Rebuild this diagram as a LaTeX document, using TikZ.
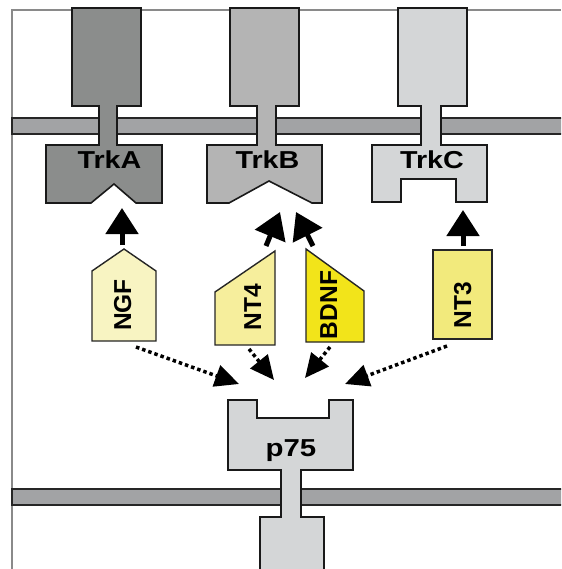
\documentclass[tikz,border=0pt]{standalone}
\usepackage{fontspec}
\usepackage{graphicx}
\setmainfont{Liberation Sans}
\usetikzlibrary{arrows.meta}
\definecolor{framegray}{HTML}{8A8A8A}
\definecolor{membgray}{HTML}{A2A3A5}
\definecolor{trkadark}{HTML}{8B8D8C}
\definecolor{trkbmid}{HTML}{B4B4B4}
\definecolor{trkclight}{HTML}{D4D6D7}
\definecolor{ngfpale}{HTML}{F8F4C2}
\definecolor{ntfourpale}{HTML}{F6EE9C}
\definecolor{bdnfyellow}{HTML}{F2E41A}
\definecolor{ntthree}{HTML}{F2EA7C}
\tikzset{rcpt/.style={draw=black!90, line width=1.6pt, line join=miter},
         memb/.style={draw=black!85, fill=membgray, line width=1.4pt},
         lig/.style={draw=black!85, line width=1.4pt},
         rlabel/.style={font=\fontsize{24.5}{28}\selectfont\bfseries, anchor=base, inner sep=0pt},
         llabel/.style={rlabel, rotate=90},
         bind/.style={line width=5pt, -{Triangle[width=32pt,length=26pt]}},
         lowbind/.style={line width=3.5pt, dash pattern=on 3.5pt off 3pt,
             -{Triangle[width=22pt,length=24pt]}}}

\begin{document}
\begin{tikzpicture}[x=1pt, y=-1pt]
  \clip (0,0) rectangle (561,569);
  \fill[white] (0,0) rectangle (561,569);
  \draw[framegray, line width=1.2pt] (12,569) -- (12,10) -- (561,10);

  % membranes
  \draw[memb] (12,118) rectangle (570,134);
  \draw[memb] (12,489) rectangle (570,505);

  % Trk receptors
  \draw[rcpt, fill=trkadark] (72,8) -- (141,8) -- (141,106) -- (117,106) -- (117,145)
      -- (162,145) -- (162,203) -- (136,203) -- (114,184) -- (91,203) -- (46,203)
      -- (46,145) -- (99,145) -- (99,106) -- (72,106) -- cycle;
  \draw[rcpt, fill=trkbmid] (230,8) -- (299,8) -- (299,106) -- (276,106) -- (276,145)
      -- (322,145) -- (322,203) -- (312,203) -- (269,181) -- (229,203) -- (207,203)
      -- (207,145) -- (257,145) -- (257,106) -- (230,106) -- cycle;
  \draw[rcpt, fill=trkclight] (398,8) -- (467,8) -- (467,106) -- (441,106) -- (441,145)
      -- (487,145) -- (487,202) -- (456,202) -- (456,179) -- (401,179) -- (401,202)
      -- (372,202) -- (372,145) -- (421,145) -- (421,106) -- (398,106) -- cycle;
  \node[rlabel] (trkA) at (109.5,169) {\scalebox{1.17}[1]{TrkA}};
  \node[rlabel] (trkB) at (267.5,169) {\scalebox{1.17}[1]{TrkB}};
  \node[rlabel] (trkC) at (432,169) {\scalebox{1.17}[1]{TrkC}};

  % p75
  \draw[rcpt, fill=trkclight] (228,400) -- (257,400) -- (257,418) -- (329,418) -- (329,400)
      -- (353,400) -- (353,470) -- (301,470) -- (301,517) -- (324,517) -- (324,575)
      -- (260,575) -- (260,517) -- (281,517) -- (281,470) -- (228,470) -- cycle;
  \node[rlabel] (p75) at (291,456) {\scalebox{1.2}[1]{p75}};

  % ligands
  \draw[lig, fill=ngfpale] (92,341) -- (92,271) -- (124,249) -- (156,271) -- (156,341) -- cycle;
  \draw[lig, fill=ntfourpale] (215,345) -- (215,292) -- (275,251) -- (275,345) -- cycle;
  \draw[lig, fill=bdnfyellow] (306,342) -- (306,249) -- (364,291) -- (364,342) -- cycle;
  \draw[lig, fill=ntthree] (433,250) rectangle (492,339);
  \node[llabel] (ngf)  at (131,305) {NGF};
  \node[llabel] (nt4)  at (261,307) {NT4};
  \node[llabel] (bdnf) at (337,305) {BDNF};
  \node[llabel] (nt3)  at (471,305) {NT3};

  % binding sites
  \coordinate (ngf-out)  at (122,245);
  \coordinate (nt4-out)  at (266,246);
  \coordinate (bdnf-out) at (313,246);
  \coordinate (nt3-out)  at (463,246);
  \coordinate (trkA-in)  at (122,208);
  \coordinate (trkB-inl) at (280,212);
  \coordinate (trkB-inr) at (296,212);
  \coordinate (trkC-in)  at (463,210);
  \coordinate (ngf-low)  at (136,347);
  \coordinate (nt4-low)  at (249,349);
  \coordinate (bdnf-low) at (330,347);
  \coordinate (nt3-low)  at (447,346);
  \coordinate (p75-a) at (239,384);
  \coordinate (p75-b) at (274,380);
  \coordinate (p75-c) at (305,378);
  \coordinate (p75-d) at (345,384);

  \draw[bind] (ngf-out) -- (trkA-in);
  \draw[bind] (nt4-out) -- (trkB-inl);
  \draw[bind] (bdnf-out) -- (trkB-inr);
  \draw[bind] (nt3-out) -- (trkC-in);
  \draw[lowbind] (ngf-low) -- (p75-a);
  \draw[lowbind] (nt4-low) -- (p75-b);
  \draw[lowbind] (bdnf-low) -- (p75-c);
  \draw[lowbind] (nt3-low) -- (p75-d);
\end{tikzpicture}
\end{document}
